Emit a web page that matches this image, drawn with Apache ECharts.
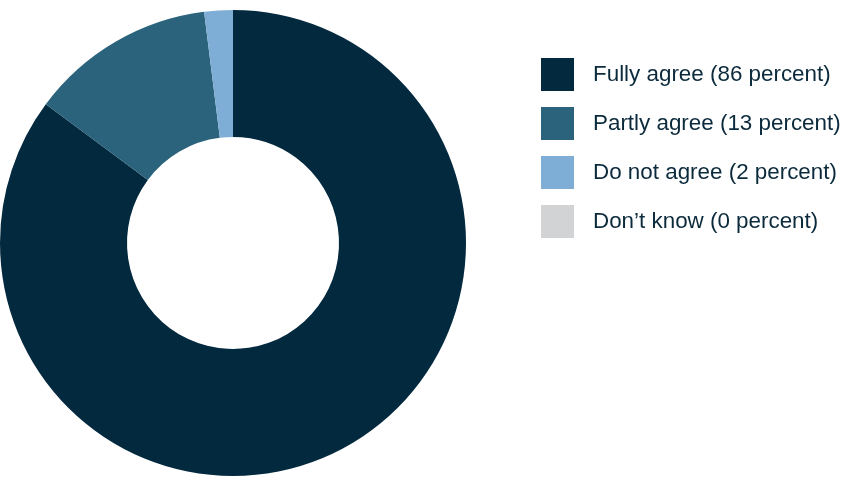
<!DOCTYPE html>
<html>
<head>
<meta charset="utf-8">
<style>
  html, body { margin: 0; padding: 0; background: #ffffff; }
  #chart { width: 843px; height: 483px; }
</style>
<script src="https://cdn.jsdelivr.net/npm/echarts@6/dist/echarts.min.js"></script>
</head>
<body>
<div id="chart"></div>
<script>
// Survey answers and their shares (percent)
const categories = ['Fully agree', 'Partly agree', 'Do not agree', 'Don\u2019t know'];
const shares = [86, 13, 2, 0];
const colors = ['#03293f', '#2b637c', '#7eaed6', '#d1d3d5'];

const chart = echarts.init(document.getElementById('chart'), null, { renderer: 'canvas' });

const data = categories.map((name, i) => ({
  name: name,
  value: shares[i],
  itemStyle: { color: colors[i] }
}));

chart.setOption({
  animation: false,
  backgroundColor: '#ffffff',
  legend: {
    orient: 'vertical',
    left: 541,
    top: 58,
    padding: 0,
    itemWidth: 33,
    itemHeight: 33,
    itemGap: 16,
    icon: 'rect',
    selectedMode: false,
    data: categories,
    formatter: function (name) {
      const i = categories.indexOf(name);
      return name + ' (' + shares[i] + ' percent)';
    },
    textStyle: {
      fontFamily: 'Liberation Sans, Arial, sans-serif',
      fontSize: 22.4,
      color: '#0b2a3c',
      padding: [0, 0, 0, 14]
    }
  },
  series: [{
    type: 'pie',
    center: [233, 243],
    radius: [106, 233],
    startAngle: 90,
    clockwise: true,
    avoidLabelOverlap: false,
    label: { show: false },
    labelLine: { show: false },
    emphasis: { disabled: true },
    itemStyle: { borderWidth: 0 },
    data: data
  }]
});
</script>
</body>
</html>
